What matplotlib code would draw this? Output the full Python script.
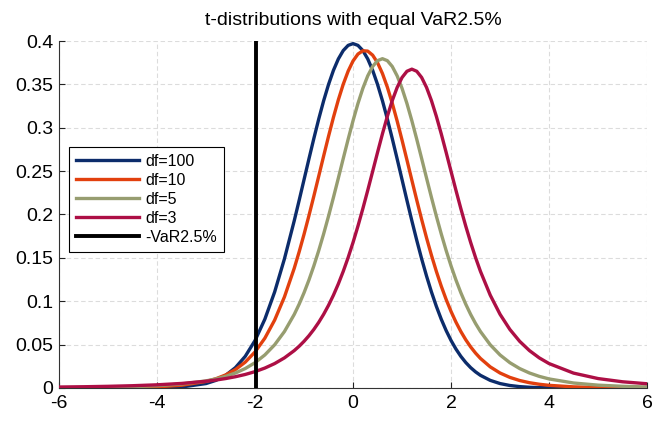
#!/usr/bin/env python3
# -*- coding: utf-8 -*-
"""
t-distributions with equal VaR2.5%
"""

import matplotlib
matplotlib.use("Agg")
import matplotlib.pyplot as plt

# x positions where the densities were read (finer around the peaks)
x_vals = [-6.0, -5.5, -5.0, -4.5, -4.0, -3.5,
          -3.0, -2.8, -2.6, -2.4, -2.2, -2.0, -1.8, -1.6, -1.4, -1.2,
          -1.1, -1.0, -0.9, -0.8, -0.7, -0.6, -0.5, -0.4, -0.3, -0.2, -0.1,
          0.0, 0.1, 0.2, 0.3, 0.4, 0.5, 0.6, 0.7, 0.8, 0.9,
          1.0, 1.1, 1.2, 1.3, 1.4, 1.5, 1.6, 1.7, 1.8, 1.9,
          2.0, 2.1, 2.2, 2.3, 2.4, 2.5,
          2.6, 2.8, 3.0, 3.2, 3.4, 3.6, 3.8, 4.0,
          4.5, 5.0, 5.5, 6.0]

# density values, one list per curve
dens_df100 = [0.0, 0.0, 0.00001, 0.00004, 0.00022, 0.00116,
              0.00511, 0.00878, 0.01459, 0.02348, 0.03648, 0.05476, 0.0793, 0.1107, 0.1489, 0.1928,
              0.21625, 0.2402, 0.26412, 0.2876, 0.31012, 0.3311, 0.34992, 0.3662, 0.37932, 0.3890, 0.39495,
              0.3970, 0.39495, 0.3890, 0.37932, 0.3662, 0.34992, 0.3311, 0.31012, 0.2876, 0.26412,
              0.2402, 0.21625, 0.1928, 0.17029, 0.1489, 0.12904, 0.1107, 0.09416, 0.0793, 0.06621,
              0.05476, 0.04490, 0.03648, 0.02939, 0.02348, 0.01859,
              0.01459, 0.00878, 0.00511, 0.00289, 0.00158, 0.00084, 0.00044, 0.00022,
              0.00004, 0.00001, 0.0, 0.0]

dens_df10 = [0.00006, 0.00013, 0.00027, 0.00060, 0.00136, 0.00316,
             0.00751, 0.01064, 0.01505, 0.02123, 0.02981, 0.04157, 0.05741, 0.07827, 0.10498, 0.13803,
             0.15690, 0.17720, 0.19872, 0.22119, 0.24425, 0.26743, 0.29023, 0.31202, 0.33221, 0.35016, 0.36527,
             0.37701, 0.38494, 0.38877, 0.38834, 0.38368, 0.37495, 0.36251, 0.34678, 0.32834, 0.30777,
             0.28572, 0.26281, 0.23961, 0.21664, 0.19432, 0.17303, 0.15301, 0.13444, 0.11744, 0.10203,
             0.08821, 0.07593, 0.06509, 0.05561, 0.04736, 0.04023,
             0.03408, 0.02433, 0.01727, 0.01223, 0.00863, 0.00610, 0.00431, 0.00306,
             0.00131, 0.00058, 0.00026, 0.00013]

dens_df5 = [0.00041, 0.00063, 0.00099, 0.00159, 0.00265, 0.00457,
            0.00819, 0.01045, 0.01341, 0.01729, 0.02242, 0.02918, 0.03809, 0.04980, 0.06509, 0.08481,
            0.09661, 0.10982, 0.12452, 0.14074, 0.15848, 0.17766, 0.19814, 0.21968, 0.24194, 0.26449, 0.28677,
            0.30814, 0.32792, 0.34538, 0.35983, 0.37064, 0.37734, 0.37961, 0.37734, 0.37064, 0.35983,
            0.34538, 0.32792, 0.30814, 0.28677, 0.26449, 0.24194, 0.21968, 0.19814, 0.17766, 0.15848,
            0.14074, 0.12452, 0.10982, 0.09661, 0.08481, 0.07434,
            0.06509, 0.04980, 0.03809, 0.02918, 0.02242, 0.01729, 0.01341, 0.01045,
            0.00575, 0.00328, 0.00194, 0.00119]

dens_df3 = [0.00110, 0.00144, 0.00193, 0.00263, 0.00367, 0.00526,
            0.00777, 0.00916, 0.01088, 0.01299, 0.01560, 0.01887, 0.02297, 0.02815, 0.03473, 0.04311,
            0.04813, 0.05382, 0.06025, 0.06751, 0.07571, 0.08496, 0.09535, 0.10701, 0.12002, 0.13446, 0.15039,
            0.16780, 0.18663, 0.20675, 0.22788, 0.24967, 0.27159, 0.29301, 0.31318, 0.33127, 0.34645,
            0.35794, 0.36511, 0.36755, 0.36511, 0.35794, 0.34645, 0.33127, 0.31318, 0.29301, 0.27159,
            0.24967, 0.22788, 0.20675, 0.18663, 0.16780, 0.15039,
            0.13446, 0.10701, 0.08496, 0.06751, 0.05382, 0.04311, 0.03473, 0.02815,
            0.01715, 0.01088, 0.00716, 0.00488]

series_labels = ['df=100', 'df=10', 'df=5', 'df=3']
series_colors = ['#0c2c6b', '#e2400e', '#979d70', '#ad0f45']

var_level = -1.98
var_label = '-VaR2.5%'

x_ticks = [-6, -4, -2, 0, 2, 4, 6]
y_ticks = [0, 0.05, 0.1, 0.15, 0.2, 0.25, 0.3, 0.35, 0.4]
y_tick_labels = ['0', '0.05', '0.1', '0.15', '0.2', '0.25', '0.3', '0.35', '0.4']

plt.rcParams['font.family'] = ['Liberation Sans', 'DejaVu Sans']
plt.rcParams['axes.unicode_minus'] = False

fig = plt.figure(figsize=(6.53, 4.21), dpi=100)
ax = fig.add_axes([0.0904, 0.0784, 0.9005, 0.8242])

# 画密度曲线
all_dens = [dens_df100, dens_df10, dens_df5, dens_df3]
for dens, lab, col in zip(all_dens, series_labels, series_colors):
    ax.plot(x_vals, dens, color=col, linewidth=2.4, label=lab, zorder=3,
            solid_joinstyle='round')

# VaR line
ax.axvline(var_level, color='black', linewidth=2.8, label=var_label, zorder=4)

ax.set_xlim(-6, 6)
ax.set_ylim(0, 0.4)
ax.set_xticks(x_ticks)
ax.set_yticks(y_ticks)
ax.set_yticklabels(y_tick_labels)
ax.tick_params(direction='in', length=4, width=0.8, labelsize=14, colors='#222222',
               labelcolor='black')
ax.tick_params(axis='x', pad=5)
ax.tick_params(axis='y', pad=4)

for side in ['top', 'right']:
    ax.spines[side].set_visible(False)
for side in ['left', 'bottom']:
    ax.spines[side].set_color('#333333')
    ax.spines[side].set_linewidth(0.8)

ax.grid(True, linestyle=(0, (4, 2.5)), color='#dcdcdc', linewidth=0.8, zorder=0)
ax.set_axisbelow(True)

ax.set_title('t-distributions with equal VaR2.5%', fontsize=14, pad=11.5)

leg = ax.legend(loc='lower left', bbox_to_anchor=(0.017, 0.392), fontsize=11.5,
                frameon=True, fancybox=False, edgecolor='black', framealpha=1,
                handlelength=3.9, labelspacing=0.25, borderpad=0.45,
                handletextpad=0.4, borderaxespad=0)
leg.get_frame().set_linewidth(0.8)

fig.savefig('out.png', dpi=100)
